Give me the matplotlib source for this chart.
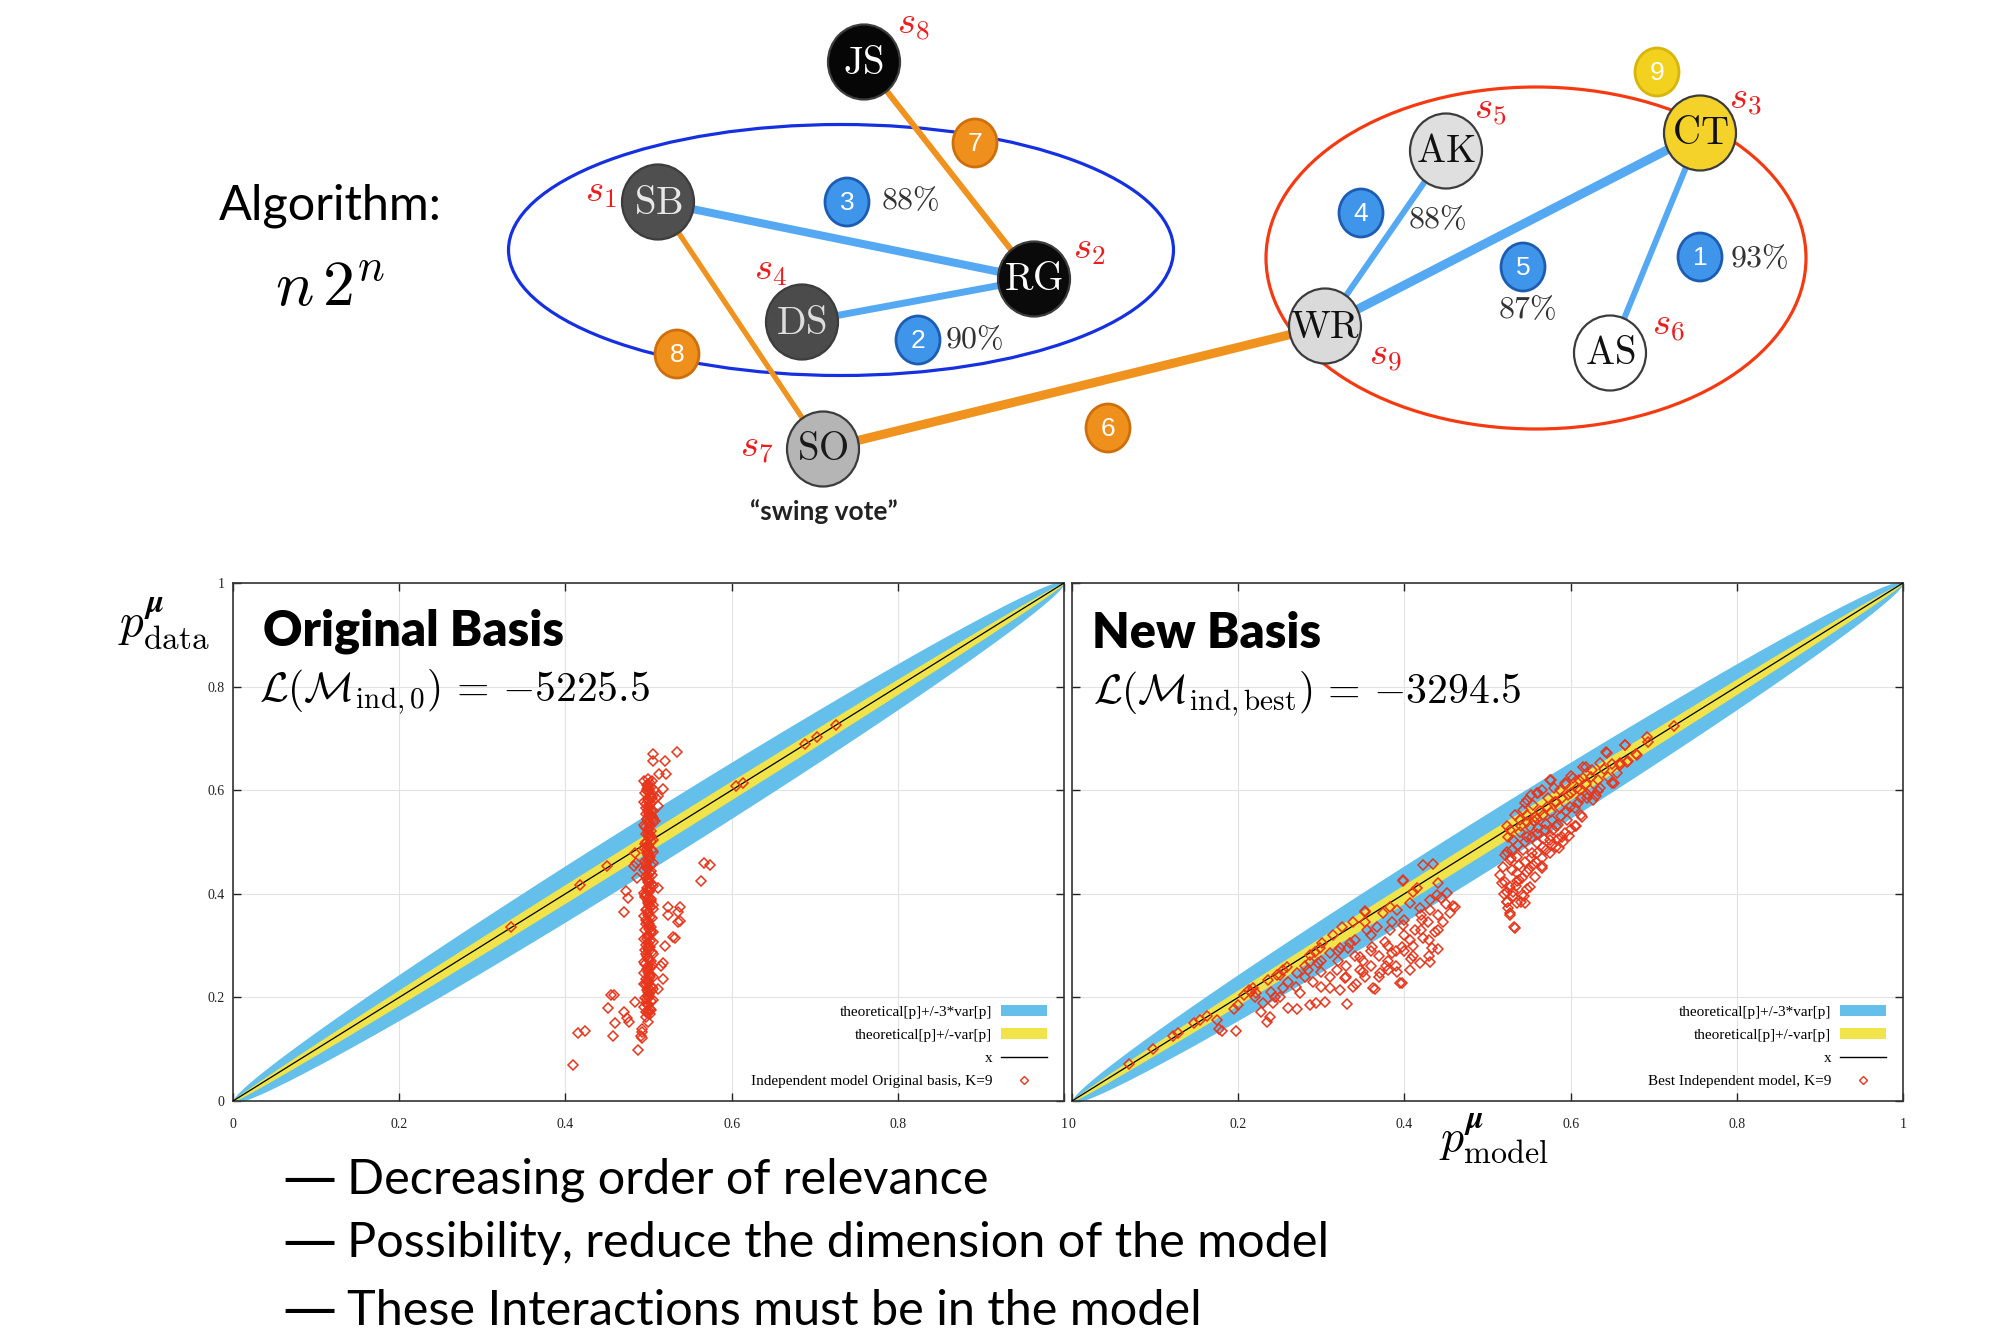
import numpy as np
import matplotlib.pyplot as plt
from matplotlib.patches import Ellipse, Patch
from matplotlib.lines import Line2D

plt.rcParams['mathtext.fontset'] = 'cm'
plt.rcParams['font.family'] = ['Liberation Serif', 'DejaVu Serif']
SANS = ['Lato', 'DejaVu Sans']

# ---------------- data ----------------
# justices and the spin index each one is mapped to
justices = ['JS', 'SB', 'RG', 'DS', 'SO', 'AK', 'CT', 'WR', 'AS']
spin_index = [8, 1, 2, 4, 7, 5, 3, 9, 6]
# couplings in decreasing order of relevance: (a, b, rank, kind, agreement)
couplings = [('CT', 'AS', 1, 'blue', '93%'), ('DS', 'RG', 2, 'blue', '90%'),
             ('SB', 'RG', 3, 'blue', '88%'), ('AK', 'WR', 4, 'blue', '88%'),
             ('CT', 'WR', 5, 'blue', '87%'), ('SO', 'WR', 6, 'orange', ''),
             ('JS', 'RG', 7, 'orange', ''), ('SB', 'SO', 8, 'orange', '')]
single_field = [('CT', 9)]

loglik_orig = -5225.5
loglik_best = -3294.5
n_samples = 730
ticks = [0, 0.2, 0.4, 0.6, 0.8, 1]
tick_labels = ['0', '0.2', '0.4', '0.6', '0.8', '1']
bullets = ['Decreasing order of relevance',
           'Possibility, reduce the dimension of the model',
           'These Interactions must be in the model']

# (p_model, p_data) for the independent model in the original basis
orig_basis = [
    (0.497, 0.172), (0.502, 0.178), (0.499, 0.186), (0.503, 0.193), (0.496, 0.199),
    (0.501, 0.207), (0.498, 0.214), (0.504, 0.221), (0.500, 0.228), (0.497, 0.236),
    (0.502, 0.243), (0.499, 0.250), (0.503, 0.258), (0.496, 0.265), (0.501, 0.272),
    (0.498, 0.280), (0.504, 0.287), (0.500, 0.294), (0.497, 0.302), (0.502, 0.309),
    (0.499, 0.316), (0.503, 0.324), (0.496, 0.331), (0.501, 0.338), (0.498, 0.346),
    (0.504, 0.353), (0.500, 0.360), (0.497, 0.368), (0.502, 0.375), (0.499, 0.382),
    (0.503, 0.390), (0.496, 0.397), (0.501, 0.404), (0.498, 0.412), (0.504, 0.419),
    (0.500, 0.426), (0.497, 0.434), (0.502, 0.441), (0.499, 0.448), (0.503, 0.456),
    (0.496, 0.463), (0.501, 0.470), (0.498, 0.478), (0.504, 0.485), (0.500, 0.492),
    (0.497, 0.500), (0.502, 0.507), (0.499, 0.514), (0.503, 0.522), (0.496, 0.529),
    (0.501, 0.536), (0.498, 0.544), (0.504, 0.551), (0.500, 0.558), (0.497, 0.566),
    (0.502, 0.573), (0.499, 0.580), (0.503, 0.588), (0.496, 0.595), (0.501, 0.602),
    (0.498, 0.610), (0.504, 0.617), (0.500, 0.622),
    (0.503, 0.175), (0.497, 0.190), (0.500, 0.203), (0.505, 0.217), (0.499, 0.232),
    (0.495, 0.247), (0.504, 0.262), (0.500, 0.277), (0.496, 0.291), (0.505, 0.306),
    (0.499, 0.321), (0.503, 0.335), (0.497, 0.350), (0.500, 0.365), (0.505, 0.379),
    (0.496, 0.393), (0.502, 0.408), (0.499, 0.423), (0.504, 0.437), (0.497, 0.452),
    (0.500, 0.466), (0.505, 0.481), (0.496, 0.496), (0.503, 0.511), (0.499, 0.525),
    (0.505, 0.540), (0.497, 0.555), (0.501, 0.569), (0.504, 0.584), (0.498, 0.599),
    (0.502, 0.613), (0.507, 0.600), (0.509, 0.585), (0.506, 0.560), (0.508, 0.540),
    (0.500, 0.170), (0.495, 0.182), (0.505, 0.195), (0.500, 0.210), (0.494, 0.225),
    (0.506, 0.240), (0.501, 0.254), (0.495, 0.269), (0.505, 0.283), (0.499, 0.298),
    (0.494, 0.313), (0.506, 0.327), (0.501, 0.342), (0.495, 0.357), (0.505, 0.371),
    (0.499, 0.386), (0.494, 0.401), (0.506, 0.415), (0.501, 0.430), (0.495, 0.445),
    (0.505, 0.459), (0.499, 0.474), (0.494, 0.489), (0.506, 0.503), (0.501, 0.518),
    (0.495, 0.533), (0.505, 0.547), (0.499, 0.562), (0.494, 0.577), (0.506, 0.591),
    (0.500, 0.606), (0.495, 0.618),
    (0.502, 0.167), (0.498, 0.197), (0.503, 0.212), (0.497, 0.226), (0.502, 0.239),
    (0.498, 0.255), (0.503, 0.270), (0.497, 0.284), (0.502, 0.297), (0.498, 0.313),
    (0.503, 0.328), (0.497, 0.342), (0.502, 0.356), (0.498, 0.371), (0.503, 0.386),
    (0.497, 0.400), (0.502, 0.414), (0.498, 0.429), (0.503, 0.444), (0.497, 0.458),
    (0.502, 0.472), (0.498, 0.487), (0.503, 0.502), (0.497, 0.516), (0.502, 0.530),
    (0.498, 0.545), (0.503, 0.560), (0.497, 0.574), (0.502, 0.588), (0.498, 0.603),
    (0.503, 0.607),
    (0.500, 0.176), (0.500, 0.188), (0.501, 0.201), (0.499, 0.218), (0.500, 0.234),
    (0.501, 0.246), (0.499, 0.261), (0.500, 0.275), (0.501, 0.289), (0.499, 0.305),
    (0.500, 0.318), (0.501, 0.333), (0.499, 0.348), (0.500, 0.362), (0.501, 0.378),
    (0.499, 0.392), (0.500, 0.406), (0.501, 0.421), (0.499, 0.436), (0.500, 0.450),
    (0.501, 0.465), (0.499, 0.480), (0.500, 0.494), (0.501, 0.509), (0.499, 0.524),
    (0.500, 0.538), (0.501, 0.553), (0.499, 0.568), (0.500, 0.583), (0.501, 0.597),
    (0.499, 0.612),
    (0.497, 0.163), (0.499, 0.153), (0.492, 0.133), (0.492, 0.122), (0.487, 0.098),
    (0.409, 0.070), (0.415, 0.132), (0.424, 0.135), (0.451, 0.180), (0.455, 0.205),
    (0.458, 0.205), (0.457, 0.125), (0.460, 0.150), (0.471, 0.171), (0.474, 0.160),
    (0.476, 0.153), (0.484, 0.192), (0.491, 0.125), (0.492, 0.139), (0.470, 0.364),
    (0.473, 0.406), (0.475, 0.392), (0.511, 0.217), (0.515, 0.260), (0.517, 0.267),
    (0.520, 0.299), (0.518, 0.235), (0.530, 0.317), (0.532, 0.314), (0.535, 0.364),
    (0.538, 0.374), (0.523, 0.374), (0.524, 0.360), (0.535, 0.346), (0.538, 0.347),
    (0.563, 0.424), (0.567, 0.460), (0.574, 0.456), (0.511, 0.411), (0.505, 0.670),
    (0.534, 0.674), (0.505, 0.656), (0.520, 0.656), (0.513, 0.631), (0.521, 0.632),
    (0.517, 0.602), (0.511, 0.570), (0.511, 0.588), (0.484, 0.478), (0.485, 0.460),
    (0.483, 0.453), (0.486, 0.431), (0.334, 0.335), (0.417, 0.417), (0.450, 0.453),
    (0.605, 0.608), (0.614, 0.613), (0.688, 0.689), (0.703, 0.702), (0.726, 0.725),
]

# (p_model, p_data) for the best independent model in the new basis
new_basis = [
    (0.068, 0.071), (0.098, 0.100), (0.121, 0.125), (0.127, 0.132), (0.147, 0.150),
    (0.154, 0.157), (0.162, 0.164), (0.174, 0.157), (0.177, 0.139), (0.180, 0.135),
    (0.197, 0.135), (0.195, 0.178), (0.200, 0.185), (0.213, 0.214), (0.207, 0.205),
    (0.218, 0.218), (0.220, 0.200), (0.235, 0.153), (0.238, 0.162), (0.228, 0.172),
    (0.260, 0.180), (0.271, 0.178), (0.286, 0.185), (0.294, 0.189), (0.304, 0.191),
    (0.331, 0.187), (0.254, 0.218), (0.274, 0.208), (0.300, 0.220), (0.310, 0.218),
    (0.322, 0.214), (0.338, 0.220), (0.362, 0.218), (0.397, 0.228), (0.242, 0.189),
    (0.222, 0.208), (0.244, 0.201), (0.271, 0.247), (0.284, 0.253), (0.296, 0.266),
    (0.319, 0.253), (0.328, 0.237), (0.347, 0.253), (0.353, 0.239), (0.371, 0.247),
    (0.380, 0.253), (0.391, 0.249), (0.407, 0.253), (0.419, 0.266), (0.431, 0.268),
    (0.441, 0.293), (0.347, 0.278), (0.361, 0.297), (0.377, 0.307), (0.385, 0.286),
    (0.397, 0.297), (0.407, 0.311), (0.422, 0.315), (0.433, 0.295), (0.335, 0.305),
    (0.322, 0.295), (0.310, 0.286), (0.286, 0.268), (0.259, 0.259), (0.250, 0.243),
    (0.236, 0.234), (0.355, 0.330), (0.367, 0.336), (0.383, 0.330), (0.398, 0.340),
    (0.413, 0.330), (0.421, 0.349), (0.437, 0.326), (0.446, 0.346), (0.455, 0.363),
    (0.461, 0.375), (0.431, 0.369), (0.419, 0.373), (0.407, 0.382), (0.391, 0.369),
    (0.374, 0.363), (0.385, 0.346), (0.353, 0.365), (0.338, 0.346), (0.325, 0.336),
    (0.314, 0.320), (0.301, 0.305), (0.292, 0.288), (0.286, 0.282), (0.439, 0.398),
    (0.451, 0.401), (0.431, 0.388), (0.440, 0.421), (0.415, 0.411), (0.398, 0.427),
    (0.422, 0.456), (0.434, 0.458), (0.410, 0.403), (0.383, 0.375), (0.353, 0.346),
    (0.298, 0.295), (0.247, 0.243), (0.216, 0.210), (0.254, 0.253), (0.352, 0.367),
    (0.398, 0.424), (0.332, 0.296), (0.342, 0.225), (0.365, 0.217), (0.378, 0.260),
    (0.395, 0.228), (0.408, 0.274), (0.428, 0.346), (0.444, 0.392), (0.458, 0.377),
    (0.260, 0.230), (0.270, 0.220), (0.280, 0.240), (0.290, 0.230), (0.300, 0.250),
    (0.310, 0.240), (0.320, 0.270), (0.330, 0.260), (0.340, 0.280), (0.350, 0.270),
    (0.360, 0.290), (0.370, 0.280), (0.380, 0.300), (0.390, 0.290), (0.400, 0.320),
    (0.410, 0.300), (0.420, 0.330), (0.430, 0.310), (0.440, 0.360), (0.450, 0.380),
    (0.330, 0.240), (0.350, 0.250), (0.370, 0.240), (0.390, 0.260), (0.410, 0.280),
    (0.430, 0.280), (0.400, 0.290), (0.380, 0.270), (0.240, 0.210), (0.250, 0.200),
    (0.230, 0.190), (0.360, 0.320), (0.400, 0.350), (0.420, 0.360), (0.440, 0.330),
    (0.300, 0.270), (0.280, 0.260), (0.320, 0.290), (0.340, 0.310), (0.360, 0.260),
    (0.515, 0.436), (0.521, 0.423), (0.523, 0.384), (0.535, 0.382), (0.545, 0.382),
    (0.527, 0.363), (0.533, 0.334), (0.531, 0.403), (0.541, 0.398), (0.551, 0.413),
    (0.519, 0.452), (0.527, 0.465), (0.523, 0.481), (0.535, 0.471), (0.547, 0.442),
    (0.555, 0.456), (0.565, 0.450), (0.557, 0.432), (0.535, 0.440), (0.543, 0.485),
    (0.553, 0.479), (0.560, 0.498), (0.567, 0.490), (0.575, 0.504), (0.531, 0.504),
    (0.527, 0.523), (0.539, 0.519), (0.548, 0.510), (0.551, 0.529), (0.561, 0.527),
    (0.569, 0.523), (0.579, 0.523), (0.590, 0.510), (0.585, 0.533), (0.596, 0.542),
    (0.605, 0.531), (0.614, 0.548), (0.539, 0.542), (0.548, 0.552), (0.557, 0.548),
    (0.567, 0.552), (0.577, 0.558), (0.587, 0.566), (0.599, 0.568), (0.609, 0.575),
    (0.620, 0.585), (0.627, 0.581), (0.623, 0.600), (0.635, 0.604), (0.633, 0.620),
    (0.650, 0.614), (0.656, 0.633), (0.659, 0.649), (0.668, 0.654), (0.680, 0.668),
    (0.665, 0.687), (0.693, 0.693), (0.644, 0.672), (0.635, 0.652), (0.615, 0.645),
    (0.603, 0.624), (0.593, 0.614), (0.587, 0.600), (0.575, 0.620), (0.561, 0.595),
    (0.545, 0.575), (0.555, 0.571), (0.573, 0.585), (0.581, 0.577), (0.597, 0.591),
    (0.611, 0.600), (0.615, 0.624), (0.626, 0.639), (0.543, 0.562), (0.525, 0.510),
    (0.521, 0.475), (0.527, 0.413), (0.523, 0.403), (0.538, 0.427), (0.525, 0.373),
    (0.532, 0.335), (0.527, 0.360), (0.524, 0.385), (0.540, 0.385), (0.547, 0.410),
    (0.566, 0.453), (0.586, 0.488), (0.606, 0.531), (0.613, 0.552), (0.630, 0.588),
    (0.652, 0.613), (0.523, 0.531), (0.533, 0.552), (0.547, 0.581), (0.560, 0.595),
    (0.576, 0.620), (0.600, 0.627), (0.619, 0.645), (0.642, 0.674), (0.665, 0.688),
    (0.679, 0.670), (0.692, 0.702), (0.725, 0.723), (0.669, 0.656), (0.659, 0.652),
    (0.530, 0.445), (0.538, 0.455), (0.545, 0.462), (0.552, 0.470), (0.560, 0.478),
    (0.570, 0.485), (0.578, 0.495), (0.585, 0.505), (0.593, 0.518), (0.600, 0.525),
    (0.530, 0.485), (0.537, 0.495), (0.545, 0.500), (0.553, 0.510), (0.560, 0.515),
    (0.570, 0.535), (0.578, 0.542), (0.588, 0.550), (0.595, 0.560), (0.605, 0.565),
    (0.540, 0.530), (0.548, 0.538), (0.556, 0.540), (0.563, 0.560), (0.572, 0.568),
    (0.582, 0.578), (0.590, 0.585), (0.600, 0.595), (0.608, 0.605), (0.618, 0.612),
    (0.528, 0.470), (0.535, 0.425), (0.542, 0.430), (0.550, 0.448), (0.558, 0.462),
    (0.566, 0.470), (0.575, 0.478), (0.583, 0.490), (0.591, 0.500), (0.598, 0.512),
    (0.560, 0.545), (0.568, 0.505), (0.576, 0.512), (0.582, 0.530), (0.552, 0.590),
    (0.566, 0.600), (0.580, 0.605), (0.595, 0.612), (0.610, 0.620), (0.625, 0.625),
    (0.640, 0.640), (0.650, 0.650), (0.620, 0.592), (0.633, 0.598), (0.645, 0.625),
    (0.612, 0.585), (0.534, 0.415), (0.518, 0.420), (0.531, 0.395), (0.544, 0.395),
    (0.520, 0.400),
]

# ---------------- layout (pixels, origin top-left) ----------------
node_xy = {'JS': (864, 62), 'SB': (658, 202), 'RG': (1034, 279), 'DS': (802, 322),
           'SO': (823, 449), 'AK': (1446, 151), 'CT': (1700, 133), 'WR': (1325, 326),
           'AS': (1610, 353)}
node_fill = {'JS': '#060606', 'SB': '#4f4f4f', 'RG': '#0a0a0a', 'DS': '#4b4b4b',
             'SO': '#b5b5b5', 'AK': '#dfdfdf', 'CT': '#f4d22a', 'WR': '#dadada',
             'AS': '#ffffff'}
node_text = {'JS': 'white', 'SB': '#e8e8e8', 'RG': 'white', 'DS': '#dddddd',
             'SO': '#1a1a1a', 'AK': '#111111', 'CT': '#111111', 'WR': '#111111',
             'AS': '#111111'}
spin_xy = {'JS': (913, 24), 'SB': (601, 192), 'RG': (1089, 249), 'DS': (770, 270),
           'SO': (757, 448), 'AK': (1490, 109), 'CT': (1745, 99), 'WR': (1385, 356),
           'AS': (1668, 326)}
badge_xy = {1: (1700, 257), 2: (918, 340), 3: (847, 202), 4: (1361, 213), 5: (1523, 267),
            6: (1108, 428), 7: (975, 143), 8: (677, 354), 9: (1657, 72)}
pct_xy = {1: (1759, 260), 2: (974, 341), 3: (910, 202), 4: (1437, 221), 5: (1527, 311)}
edge_lw = {1: 4.3, 2: 5.0, 3: 5.8, 4: 4.3, 5: 6.5, 6: 6.5, 7: 4.3, 8: 3.8}
line_col = {'blue': '#55a9f2', 'orange': '#f0921e'}
badge_col = {'blue': ('#3f95ea', '#1c5db3'), 'orange': ('#f0901c', '#cf6f0c'),
             'yellow': ('#f2d21e', '#d9b40a')}

BLUE_BAND = '#64c0eb'
YELLOW_BAND = '#f0e44a'
RED = '#e8361c'

fig = plt.figure(figsize=(20.08, 13.40), dpi=100)
fig.patch.set_facecolor('white')

# ---------------- interaction diagram ----------------
dg = fig.add_axes([0, 0, 1, 1])
dg.set_xlim(0, 2008)
dg.set_ylim(1340, 0)
dg.axis('off')

dg.add_patch(Ellipse((841, 250), 665, 251, fill=False, ec='#1530e0', lw=2.3, zorder=1))
dg.add_patch(Ellipse((1536, 258), 540, 342, fill=False, ec='#f53a12', lw=2.3, zorder=1))

for a, b, rank, kind, pct in couplings:
    (x1, y1), (x2, y2) = node_xy[a], node_xy[b]
    dg.plot([x1, x2], [y1, y2], color=line_col[kind], lw=edge_lw[rank],
            solid_capstyle='butt', zorder=2)

for name, s in zip(justices, spin_index):
    x, y = node_xy[name]
    dg.add_patch(Ellipse((x, y), 72, 75, fc=node_fill[name], ec='#3c3c3c', lw=1.6, zorder=4))
    dg.text(x, y + 2, r'$\mathrm{%s}$' % name, fontsize=28, color=node_text[name],
            ha='center', va='center', zorder=6)
    sx, sy = spin_xy[name]
    dg.text(sx, sy, r'$s_{%d}$' % s, fontsize=28, color='#ee1c1c',
            ha='center', va='center', zorder=6)


def badge(num, kind):
    x, y = badge_xy[num]
    fc, ec = badge_col[kind]
    dg.add_patch(Ellipse((x, y), 44, 48, fc=fc, ec=ec, lw=2.0, zorder=5))
    dg.text(x, y + 1, str(num), fontsize=19, color='white',
            family=['Liberation Sans', 'DejaVu Sans'], ha='center', va='center', zorder=6)


for a, b, rank, kind, pct in couplings:
    badge(rank, kind)
    if pct:
        px, py = pct_xy[rank]
        dg.text(px, py, r'$%s\%%$' % pct.rstrip('%'), fontsize=23, color='#333333',
                ha='center', va='center', zorder=6)
for name, rank in single_field:
    badge(rank, 'yellow')

dg.text(824, 512, '\u201cswing vote\u201d', fontsize=19, fontweight='bold', family=SANS,
        ha='center', va='center', color='#222222')
dg.text(330, 206, 'Algorithm:', fontsize=35, family=SANS, ha='center', va='center')
dg.text(330, 291, r'$n\,2^n$', fontsize=46, ha='center', va='center')

# bullet list under the panels; the dash is set in a font with a full em dash
for i, line in enumerate(bullets):
    y = [1180, 1243, 1311][i]
    dg.text(282, y, '\u2014', fontsize=39, family=['DejaVu Sans'], ha='left', va='center')
    dg.text(347, y, line, fontsize=35, family=SANS, ha='left', va='center')

# ---------------- comparison panels ----------------
p = np.linspace(0, 1, 500)
sd = np.sqrt(p * (1 - p) / n_samples)


def panel(rect, pts, title, formula, label, title_xy, formula_xy, show_y):
    ax = fig.add_axes(rect)
    pts = np.array(pts)
    ax.fill_between(p, p - 3 * sd, p + 3 * sd, color=BLUE_BAND, lw=0, zorder=1)
    ax.fill_between(p, p - sd, p + sd, color=YELLOW_BAND, lw=0, zorder=2)
    ax.plot(p, p, color='black', lw=0.9, zorder=3)
    ax.plot(pts[:, 0], pts[:, 1], ls='none', marker='D', ms=5.2, mfc='none', mec=RED,
            mew=1.1, zorder=4)
    ax.set_xlim(0, 1)
    ax.set_ylim(0, 1)
    ax.set_xticks(ticks)
    ax.set_yticks(ticks)
    ax.set_xticklabels(tick_labels)
    ax.set_yticklabels(tick_labels)
    ax.tick_params(direction='in', length=6, width=1.0, top=True, right=True,
                   labelsize=10, colors='#222222')
    ax.tick_params(axis='x', pad=12)
    ax.tick_params(axis='y', pad=6, labelleft=show_y)
    ax.grid(color='#e2e2e2', lw=0.8)
    ax.set_axisbelow(True)
    for sp in ax.spines.values():
        sp.set_linewidth(1.2)
        sp.set_color('#333333')

    ax.text(*title_xy, title, transform=ax.transAxes, fontsize=35, fontweight='heavy',
            family=SANS, ha='left', va='center')
    ax.text(*formula_xy, formula, transform=ax.transAxes, fontsize=30,
            ha='left', va='center')

    handles = [Patch(fc=BLUE_BAND, ec='none'), Patch(fc=YELLOW_BAND, ec='none'),
               Line2D([], [], color='black', lw=1.0),
               Line2D([], [], ls='none', marker='D', ms=4.5, mfc='none', mec=RED, mew=1.0)]
    labels = ['theoretical[p]+/-3*var[p]', 'theoretical[p]+/-var[p]', 'x', label]
    ax.legend(handles, labels, loc='lower right', bbox_to_anchor=(1.0, -0.008),
              frameon=False, markerfirst=False, fontsize=11, handlelength=3.0,
              handleheight=0.75, handletextpad=0.6, labelspacing=0.61,
              borderaxespad=0.7, numpoints=1)
    return ax


def loglik_text(sub, value):
    return r'$\mathcal{L}(\mathcal{M}_{\rm %s})\,=\,{-}%.1f$' % (sub, abs(value))


panel([233 / 2008, 1 - 1101 / 1340, 831 / 2008, 518 / 1340], orig_basis, 'Original Basis',
      loglik_text('ind,0', loglik_orig),
      'Independent model Original basis, K=9', (0.036, 0.907), (0.031, 0.79), True)
panel([1072 / 2008, 1 - 1101 / 1340, 831 / 2008, 518 / 1340], new_basis, 'New Basis',
      loglik_text('ind,best', loglik_best),
      'Best Independent model, K=9', (0.024, 0.903), (0.025, 0.785), False)

fig.text(164 / 2008, 1 - 624 / 1340, r'$p^{\boldsymbol{\mu}}_{\rm data}$', fontsize=34,
         ha='center', va='center')
fig.text(1494 / 2008, 1 - 1139 / 1340, r'$p^{\boldsymbol{\mu}}_{\rm model}$', fontsize=33,
         ha='center', va='center')

fig.savefig('out.png', dpi=100)
